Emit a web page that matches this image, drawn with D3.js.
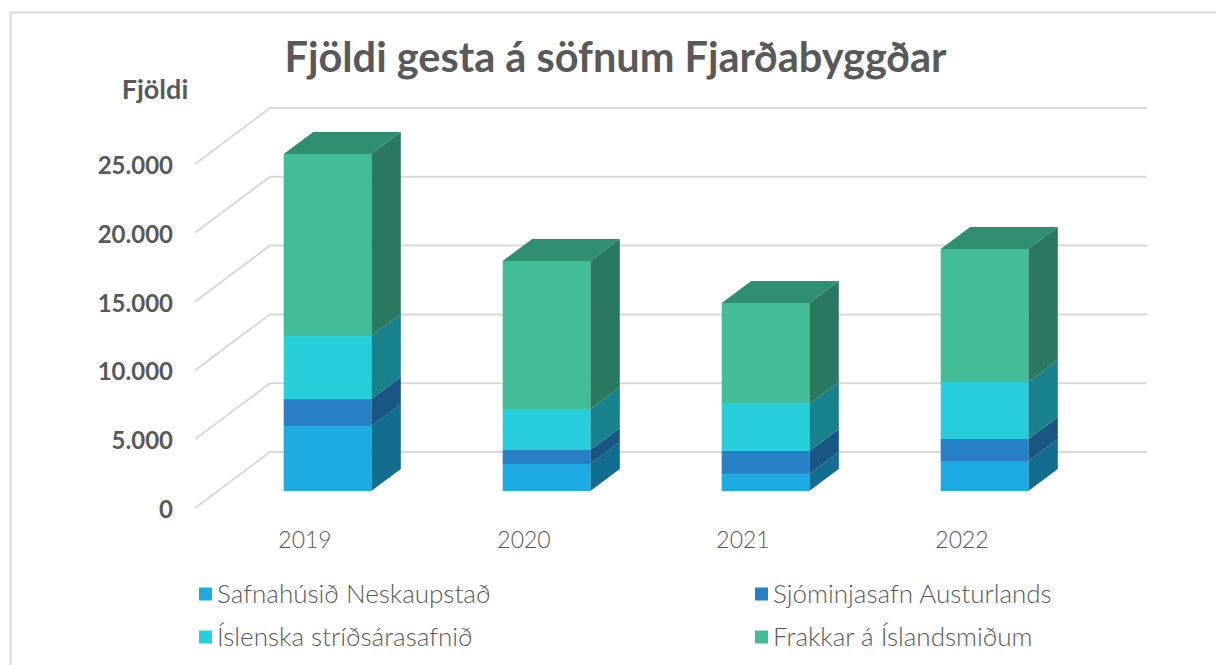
<!DOCTYPE html>
<html><head><meta charset="utf-8"><script src="https://cdn.jsdelivr.net/npm/d3@7"></script>
<style>html,body{margin:0;background:#fff}svg{display:block}text{font-family:Lato,"Open Sans",sans-serif}</style></head>
<body><svg id="c" width="1216" height="665"></svg>
<script>
const years=["2019","2020","2021","2022"];
const seriesNames=["Safnahúsið Neskaupstað","Sjóminjasafn Austurlands","Íslenska stríðsárasafnið","Frakkar á Íslandsmiðum"];
const safnahusid=[4720,1960,1240,2180];
const sjominjasafn=[1960,1020,1670,1600];
const stridsarasafn=[4580,2980,3420,4140];
const frakkar=[13230,10760,7340,9670];
const tickValues=[0,5000,10000,15000,20000,25000];
const tickLabels=["0","5.000","10.000","15.000","20.000","25.000"];
const colors=["#1EABE3","#2780C5","#26CFD9","#43BD97"];
const sideColors=["#126E91","#1A5684","#17828B","#2B7860"];
const topColor="#308E71";

const svg=d3.select("#c");
const rows=[safnahusid,sjominjasafn,stridsarasafn,frakkar];
const stack=years.map((y,i)=>{let s=0;return rows.map((r,k)=>{const d={k,year:y,y0:s,y1:s+r[i]};s=d.y1;return d;});});

svg.append("path").attr("d","M10.5,665V12.5H1216").attr("fill","none").attr("stroke","#d9d9d9").attr("stroke-width",2);

const yBack=d3.scaleLinear().domain([0,25000]).range([452,108]);
const yBar=d3.scaleLinear().domain([0,25000]).range([491,147]);
const x=d3.scaleBand().domain(years).range([218,1094]).paddingInner(0.6).paddingOuter(0.3);
const xLabel=d3.scaleBand().domain(years).range([195.5,1071.5]);
const dx=29.5,dy=-22, wallDx=75, wallDy=-56;

const grid=svg.append("g").attr("fill","none").attr("stroke","#d9d9d9").attr("stroke-width",2);
grid.selectAll("path").data(tickValues).join("path")
 .attr("d",v=>{const b=yBack(v);return `M${195},${b-wallDy}L${195+wallDx},${b}H1147`;});

const g=svg.append("g");
stack.forEach(col=>{
 const X=x(col[0].year),W=x.bandwidth();
 col.forEach(d=>{
  const t=yBar(d.y1),b=yBar(d.y0);
  g.append("path").attr("fill",sideColors[d.k]).attr("d",`M${X+W},${t}l${dx},${dy}V${b+dy}l${-dx},${-dy}Z`);
  g.append("rect").attr("x",X).attr("y",t).attr("width",W).attr("height",b-t).attr("fill",colors[d.k]);
 });
 const top=yBar(col[3].y1);
 g.append("path").attr("fill",topColor).attr("d",`M${X},${top}l${dx},${dy}h${W}l${-dx},${-dy}Z`);
});

const tick=svg.append("g").attr("font-weight",700).attr("font-size",24).attr("fill","#595959").attr("text-anchor","end");
tick.selectAll("text").data(tickValues).join("text").text((v,i)=>tickLabels[i])
 .attr("x",173).attr("y",v=>yBack(v)-wallDy+10);

svg.append("g").attr("font-size",23).attr("font-weight",300).attr("fill","#595959").attr("text-anchor","middle")
 .selectAll("text").data(years).join("text").text(d=>d).attr("x",d=>xLabel(d)+xLabel.bandwidth()/2).attr("y",548);

svg.append("text").text("Fjöldi gesta á söfnum Fjarðabyggðar").attr("x",615.5).attr("y",72).attr("text-anchor","middle").attr("font-size",41.5).attr("font-weight",700).attr("fill","#595959");
svg.append("text").text("Fjöldi").attr("x",155).attr("y",99).attr("text-anchor","middle").attr("font-size",27).attr("font-weight",700).attr("fill","#595959");

const lx=[199,755,199,755], ly=[594,594,637,637];
const lg=svg.append("g").selectAll("g").data(seriesNames).join("g");
lg.append("rect").attr("x",(d,i)=>lx[i]).attr("y",(d,i)=>ly[i]-6.5).attr("width",13).attr("height",13).attr("fill",(d,i)=>colors[i]);
lg.append("text").text(d=>d).attr("x",(d,i)=>lx[i]+18).attr("y",(d,i)=>ly[i]+9).attr("font-size",26).attr("font-weight",300).attr("fill","#595959");
</script></body></html>
